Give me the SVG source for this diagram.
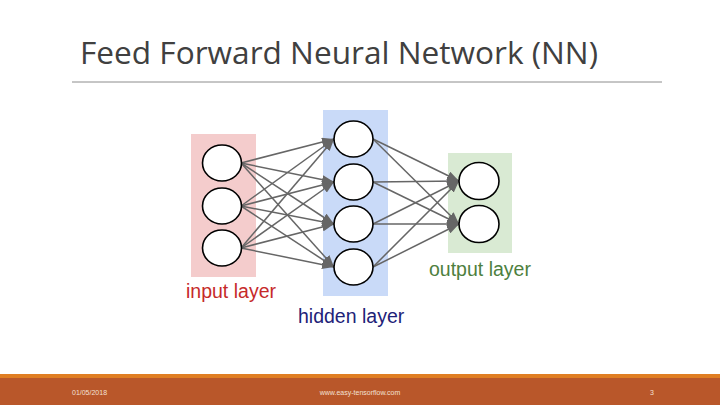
<svg xmlns="http://www.w3.org/2000/svg" width="720" height="405" viewBox="0 0 720 405">
<defs>
<style>
.node{fill:#ffffff;stroke:#000000;stroke-width:1.6}
.edge{stroke:#666666;stroke-width:1.5;fill:none}
.lbl{font-family:"Liberation Sans",Arial,sans-serif;font-size:19.5px}
.foot{font-family:"Liberation Sans",Arial,sans-serif;font-size:7px;fill:#f3e0d4}
</style>
<marker id="arr" viewBox="0 0 12 9" markerWidth="12" markerHeight="9" refX="12" refY="4.5" orient="auto" markerUnits="userSpaceOnUse">
<path d="M0,0 L12,4.5 L0,9 z" fill="#666666"/>
</marker>
</defs>
<rect width="720" height="405" fill="#ffffff"/>
<text x="80" y="64" font-family="'Open Sans','Noto Sans',sans-serif" font-size="31" fill="#404040" textLength="518" lengthAdjust="spacingAndGlyphs">Feed Forward Neural Network (NN)</text>
<line x1="72" y1="82" x2="662" y2="82" stroke="#8c8c8c" stroke-width="1"/>

<rect x="191" y="134" width="65" height="143" fill="#F4CCCC"/>
<rect x="323" y="110" width="65" height="186" fill="#C9DAF8"/>
<rect x="448" y="153" width="64" height="100" fill="#D9EAD3"/>

<g id="connectors">
<line class="edge" marker-end="url(#arr)" x1="241" y1="163" x2="334" y2="139"/>
<line class="edge" marker-end="url(#arr)" x1="241" y1="163" x2="334" y2="182"/>
<line class="edge" marker-end="url(#arr)" x1="241" y1="163" x2="334" y2="224"/>
<line class="edge" marker-end="url(#arr)" x1="241" y1="163" x2="334" y2="267"/>
<line class="edge" marker-end="url(#arr)" x1="241" y1="206" x2="334" y2="139"/>
<line class="edge" marker-end="url(#arr)" x1="241" y1="206" x2="334" y2="182"/>
<line class="edge" marker-end="url(#arr)" x1="241" y1="206" x2="334" y2="224"/>
<line class="edge" marker-end="url(#arr)" x1="241" y1="206" x2="334" y2="267"/>
<line class="edge" marker-end="url(#arr)" x1="241" y1="248" x2="334" y2="139"/>
<line class="edge" marker-end="url(#arr)" x1="241" y1="248" x2="334" y2="182"/>
<line class="edge" marker-end="url(#arr)" x1="241" y1="248" x2="334" y2="224"/>
<line class="edge" marker-end="url(#arr)" x1="241" y1="248" x2="334" y2="267"/>
<line class="edge" marker-end="url(#arr)" x1="373" y1="139" x2="459" y2="181"/>
<line class="edge" marker-end="url(#arr)" x1="373" y1="139" x2="459" y2="224"/>
<line class="edge" marker-end="url(#arr)" x1="373" y1="182" x2="459" y2="181"/>
<line class="edge" marker-end="url(#arr)" x1="373" y1="182" x2="459" y2="224"/>
<line class="edge" marker-end="url(#arr)" x1="373" y1="224" x2="459" y2="181"/>
<line class="edge" marker-end="url(#arr)" x1="373" y1="224" x2="459" y2="224"/>
<line class="edge" marker-end="url(#arr)" x1="373" y1="267" x2="459" y2="181"/>
<line class="edge" marker-end="url(#arr)" x1="373" y1="267" x2="459" y2="224"/>
</g>

<g id="in1"><ellipse class="node" cx="222" cy="163" rx="19.5" ry="18"/></g>
<g id="in2"><ellipse class="node" cx="222" cy="206" rx="19.5" ry="18"/></g>
<g id="in3"><ellipse class="node" cx="222" cy="248" rx="19.5" ry="18"/></g>
<g id="h1"><ellipse class="node" cx="353.5" cy="139" rx="19.5" ry="18"/></g>
<g id="h2"><ellipse class="node" cx="353.5" cy="182" rx="19.5" ry="18"/></g>
<g id="h3"><ellipse class="node" cx="353.5" cy="224" rx="19.5" ry="18"/></g>
<g id="h4"><ellipse class="node" cx="353.5" cy="267" rx="19.5" ry="18"/></g>
<g id="o1"><ellipse class="node" cx="479" cy="181" rx="20" ry="18.5"/></g>
<g id="o2"><ellipse class="node" cx="479" cy="224" rx="20" ry="18.5"/></g>

<text class="lbl" x="186" y="298" fill="#C62A2A">input layer</text>
<text class="lbl" x="298" y="323" fill="#1E2278">hidden layer</text>
<text class="lbl" x="429" y="276" fill="#4E7F3E">output layer</text>

<rect x="0" y="374" width="720" height="4" fill="#E07E22"/>
<rect x="0" y="378" width="720" height="27" fill="#B9572A"/>
<text class="foot" x="72" y="395">01/05/2018</text>
<text class="foot" x="360" y="395" text-anchor="middle">www.easy-tensorflow.com</text>
<text class="foot" x="652" y="395" text-anchor="middle">3</text>
</svg>
